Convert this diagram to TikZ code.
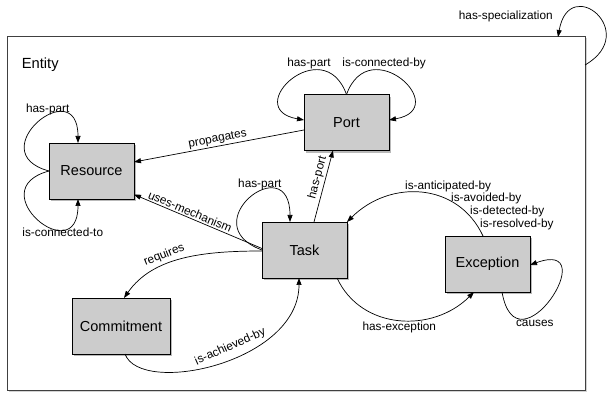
\documentclass[tikz,border=0pt]{standalone}
\usepackage{fontspec}
\setmainfont{Liberation Sans}
\usetikzlibrary{arrows.meta,shadows,calc}
\begin{document}
\begin{tikzpicture}[x=1pt,y=1pt,
  box/.style={draw=black, line width=0.8pt, fill=black!20, minimum width=85pt, minimum height=56pt,
    inner sep=0pt, outer sep=0pt, font=\fontsize{14.5}{17}\selectfont,
    drop shadow={shadow xshift=2pt, shadow yshift=-2.5pt, opacity=0.55}},
  lbl/.style={font=\fontsize{11.8}{12.7}\selectfont, inner sep=1.5pt},
  rel/.style={draw, line width=0.7pt, -{Triangle[length=7pt,width=5pt]}},
]
\useasboundingbox (0,0) rectangle (607,393);
% container
\node[draw=black!75, line width=1pt, fill=white, minimum width=578pt, minimum height=354pt,
  inner sep=0pt, outer sep=0pt,
  drop shadow={shadow xshift=1.5pt, shadow yshift=-1.5pt, opacity=0.35}] (entity) at (296,179) {};
\node[font=\fontsize{14.7}{17}\selectfont, anchor=west, inner sep=0pt] (entitylabel) at (21.7,328) {Entity};

% boxes
\node[box] (port) at (346.5,270.5) {Port};
\node[box] (resource) at (91.5,222) {Resource};
\node[box] (task) at (304.5,143) {Task};
\node[box] (exception) at (487.5,129) {Exception};
\node[box, minimum width=98pt] (commitment) at (121,67) {Commitment};

% has-specialization
\draw[rel] ($(entity.east)+(0,149)$) .. controls +(30:65) and +(80:65) .. ($(entity.north)+(262,0)$)
  node[lbl, pos=0.85, left=12pt] {has-specialization};

% Resource loops
\draw[rel] (resource.west) .. controls +(165:72) and +(90:72) .. ($(resource.north)+(-13.5,0)$)
  node[lbl, pos=0.6, above] {has-part};
\draw[rel] (resource.west) .. controls +(195:72) and +(270:72) .. ($(resource.south)+(-13.5,0)$)
  node[lbl, pos=0.6, below, xshift=15pt] {is-connected-to};

% Port loops
\draw[rel] (port.north) .. controls +(110:68) and +(170:65) .. ($(port.west)+(0,2.5)$)
  node[lbl, pos=0.35, above] {has-part};
\draw[rel] (port.north) .. controls +(70:68) and +(10:65) .. ($(port.east)+(0,2.5)$)
  node[lbl, pos=0.35, above] {is-connected-by};

% straight relations
\draw[rel] ($(port.west)+(0,-7.5)$) -- node[lbl, sloped, above, pos=0.5] {propagates} ($(resource.east)+(0,9)$);
\draw[rel] ($(task.west)+(0,1.5)$) -- node[lbl, sloped, above, pos=0.58] {uses-mechanism} ($(resource.south east)+(0,4.5)$);
\draw[rel] ($(task.north)+(9.5,0)$) -- node[lbl, sloped, above, pos=0.59, inner sep=2pt] {has-port} ($(port.south)+(-13.5,0)$);

% Task loop
\draw[rel] (task.west) .. controls +(160:75) and +(90:75) .. ($(task.north)+(-14.5,0)$)
  node[lbl, pos=0.6, above] {has-part};

% requires / is-achieved-by
\draw[rel] ($(task.west)+(0,-1)$) .. controls +(180:60) and +(55:50) .. ($(commitment.north)+(3,0)$)
  node[lbl, pos=0.6, sloped, above=2pt] {requires};
\draw[rel] ($(commitment.south)+(4,0)$) .. controls +(290:45) and +(270:85) .. ($(task.south)+(-5.5,0)$)
  node[lbl, pos=0.57, sloped, above=4pt] {is-achieved-by};

% has-exception
\draw[rel] ($(task.south)+(32.5,0)$) .. controls +(295:58) and +(225:58) .. ($(exception.south)+(-13.5,0)$)
  node[lbl, pos=0.5, below, inner sep=2pt] {has-exception};

% exception -> task
\draw[rel] ($(exception.north)+(-4.5,0)$) .. controls +(115:60) and +(45:60) .. (task.north east);
\node[lbl, align=left, anchor=north west, inner sep=0pt] (exclab) at (405,212.5)
  {is-anticipated-by\\\hspace*{46pt}is-avoided-by\\\hspace*{65pt}is-detected-by\\\hspace*{75pt}is-resolved-by};

% causes
\draw[rel] ($(exception.south)+(14.5,0)$) .. controls +(280:85) and +(20:80) .. ($(exception.east)+(0,-1)$)
  node[lbl, pos=0.3, below, xshift=6pt] {causes};
\end{tikzpicture}
\end{document}
